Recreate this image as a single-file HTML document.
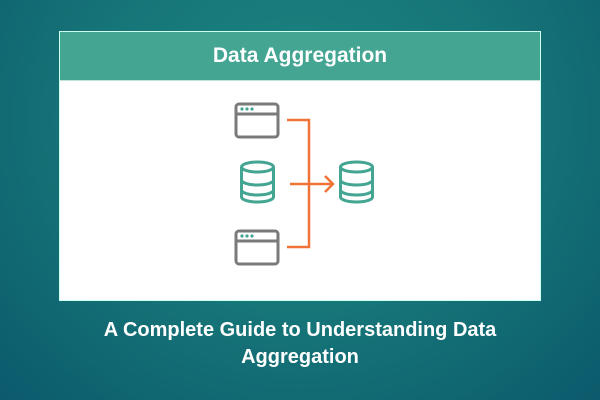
<!DOCTYPE html>
<html><head><style>
body{margin:0;width:600px;height:400px;overflow:hidden;background:radial-gradient(ellipse at 50% 30%,#1c8581 0%,#167578 50%,#0b5a6c 100%);font-family:"Liberation Sans",sans-serif;}
.card{position:absolute;left:59px;top:31px;width:482px;height:270px;background:#fff;border:1px solid #cfe;box-sizing:border-box;}
.hd{position:absolute;left:0;top:0;width:480px;height:48px;background:#43a592;border-bottom:1px solid #bfe3da;color:#fff;font-size:21px;font-weight:bold;text-align:center;line-height:48px;}
.ft{position:absolute;left:0;top:317px;width:600px;text-align:center;color:#fff;font-weight:bold;font-size:20px;line-height:27px;}
</style></head><body>
<div class="card"><div class="hd">Data Aggregation</div></div>
<svg width="600" height="400" style="position:absolute;left:0;top:0">
<g fill="none" stroke="#7a7a78" stroke-width="3">
<rect x="236" y="104" width="42" height="33" rx="3"/><line x1="236" y1="114" x2="278" y2="114"/>
<rect x="236" y="231" width="42" height="33" rx="3"/><line x1="236" y1="241" x2="278" y2="241"/>
</g>
<g fill="#43a592"><circle cx="242" cy="109" r="1.6"/><circle cx="247" cy="109" r="1.6"/><circle cx="252" cy="109" r="1.6"/>
<circle cx="242" cy="236" r="1.6"/><circle cx="247" cy="236" r="1.6"/><circle cx="252" cy="236" r="1.6"/></g>
<g fill="none" stroke="#43a592" stroke-width="3">
<g id="db"><ellipse cx="257.5" cy="167" rx="16" ry="5"/><path d="M241.5 167v30a16 5 0 0 0 32 0v-30M241.5 180a16 5 0 0 0 32 0M241.5 190a16 5 0 0 0 32 0"/></g>
<use href="#db" x="99"/>
</g>
<g fill="none" stroke="#f07338" stroke-width="2.5">
<path d="M287 120H309V247H287"/><path d="M290 184H332"/><path d="M325 176L333 184L325 192"/>
</g>
</svg>
<div class="ft">A Complete Guide to Understanding Data<br>Aggregation</div>
</body></html>
